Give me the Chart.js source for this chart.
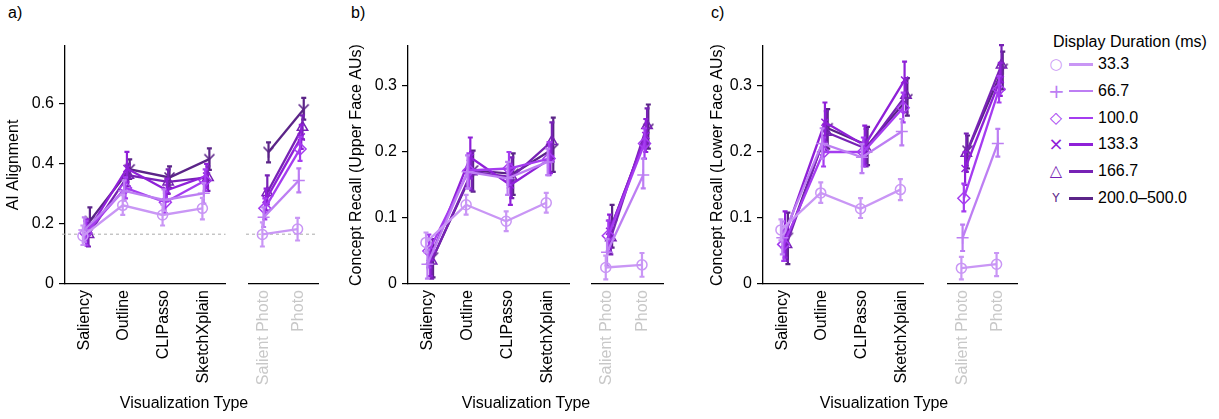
<!DOCTYPE html>
<html>
<head>
<meta charset="utf-8">
<script src="https://cdn.jsdelivr.net/npm/chart.js@4.4.1/dist/chart.umd.min.js"></script>
<style>
  body { margin: 0; width: 1219px; height: 419px; position: relative; background: #fff; overflow: hidden;
         font-family: "Liberation Sans", Arial, sans-serif; color: #000; }
  canvas { position: absolute; top: 0; }
  .texto { position: absolute; font-size: 16px; white-space: nowrap; }
  .tituloX { position: absolute; top: 394px; font-size: 16px; white-space: nowrap; transform: translateX(-50%); }
  .fila { position: absolute; left: 0; height: 20px; font-size: 16px; white-space: nowrap; }
  .fila .marca { position: absolute; width: 16px; text-align: center; line-height: 20px; }
  .fila .linea { position: absolute; left: 16px; top: 9px; width: 24px; height: 2.5px; }
  .fila .etq { position: absolute; left: 45px; line-height: 20px; white-space: nowrap; }
</style>
</head>
<body>
<div class="texto" style="left:8px;top:4px">a)</div>
<div class="texto" style="left:351px;top:4px">b)</div>
<div class="texto" style="left:711px;top:4px">c)</div>

<canvas id="aMain" width="233" height="419" style="left:0px"></canvas>
<canvas id="aFoto" width="89" height="419" style="left:239px"></canvas>
<canvas id="bMain" width="234" height="419" style="left:343px"></canvas>
<canvas id="bFoto" width="91" height="419" style="left:582px"></canvas>
<canvas id="cMain" width="227" height="419" style="left:704px"></canvas>
<canvas id="cFoto" width="89" height="419" style="left:938px"></canvas>

<div class="tituloX" style="left:184px">Visualization Type</div>
<div class="tituloX" style="left:526px">Visualization Type</div>
<div class="tituloX" style="left:884px">Visualization Type</div>

<div id="leyenda" style="position:absolute;left:1040px;top:33px;width:179px;height:190px">
  <div class="texto" style="left:13px;top:0px">Display Duration (ms)</div>
</div>

<script>
// Datos
const duraciones = ['33.3', '66.7', '100.0', '133.3', '166.7', '200.0–500.0'];
const colores = ['#c996f5', '#bd7ef3', '#a53cf0', '#8f20d8', '#7722b5', '#5b2488'];
const categorias = ['Saliency', 'Outline', 'CLIPasso', 'SketchXplain'];
const categoriasFoto = ['Salient Photo', 'Photo'];

// columnas: Saliency, Outline, CLIPasso, SketchXplain, Salient Photo, Photo
const alineacion = [
  [0.160, 0.262, 0.230, 0.252, 0.165, 0.183],
  [0.180, 0.310, 0.280, 0.302, 0.222, 0.345],
  [0.170, 0.320, 0.272, 0.345, 0.252, 0.450],
  [0.172, 0.385, 0.312, 0.360, 0.282, 0.490],
  [0.165, 0.362, 0.340, 0.355, 0.305, 0.522],
  [0.210, 0.382, 0.355, 0.416, 0.440, 0.582]
];
const alineacionBajo = [
  [0.130, 0.230, 0.195, 0.215, 0.125, 0.145],
  [0.140, 0.278, 0.245, 0.268, 0.190, 0.305],
  [0.130, 0.285, 0.236, 0.310, 0.215, 0.410],
  [0.128, 0.340, 0.275, 0.320, 0.245, 0.450],
  [0.125, 0.325, 0.300, 0.310, 0.265, 0.482],
  [0.170, 0.350, 0.320, 0.380, 0.405, 0.548]
];
const alineacionAlto = [
  [0.195, 0.296, 0.265, 0.287, 0.205, 0.220],
  [0.222, 0.345, 0.315, 0.336, 0.255, 0.385],
  [0.210, 0.355, 0.308, 0.382, 0.285, 0.490],
  [0.215, 0.440, 0.350, 0.400, 0.318, 0.530],
  [0.205, 0.400, 0.382, 0.392, 0.362, 0.562],
  [0.255, 0.415, 0.392, 0.452, 0.472, 0.620]
];

const recallSup = [
  [0.063, 0.120, 0.095, 0.123, 0.025, 0.029],
  [0.030, 0.170, 0.160, 0.185, 0.048, 0.165],
  [0.050, 0.172, 0.175, 0.190, 0.073, 0.213],
  [0.040, 0.192, 0.150, 0.190, 0.080, 0.225],
  [0.035, 0.170, 0.162, 0.216, 0.070, 0.240],
  [0.040, 0.172, 0.167, 0.205, 0.090, 0.235]
];
const recallSupBajo = [
  [0.048, 0.105, 0.080, 0.108, 0.007, 0.011],
  [0.008, 0.145, 0.135, 0.165, 0.028, 0.145],
  [0.025, 0.145, 0.150, 0.165, 0.050, 0.190],
  [0.012, 0.160, 0.120, 0.168, 0.055, 0.200],
  [0.008, 0.142, 0.130, 0.185, 0.045, 0.212],
  [0.010, 0.140, 0.135, 0.170, 0.055, 0.205]
];
const recallSupAlto = [
  [0.078, 0.135, 0.110, 0.138, 0.043, 0.047],
  [0.052, 0.195, 0.185, 0.205, 0.068, 0.190],
  [0.075, 0.198, 0.200, 0.215, 0.096, 0.236],
  [0.068, 0.222, 0.182, 0.215, 0.105, 0.250],
  [0.062, 0.200, 0.192, 0.245, 0.095, 0.266],
  [0.068, 0.202, 0.198, 0.252, 0.120, 0.272]
];

const recallInf = [
  [0.082, 0.138, 0.114, 0.143, 0.024, 0.030],
  [0.070, 0.213, 0.192, 0.231, 0.070, 0.213],
  [0.060, 0.200, 0.200, 0.267, 0.130, 0.295],
  [0.075, 0.245, 0.210, 0.309, 0.175, 0.310],
  [0.060, 0.230, 0.205, 0.286, 0.198, 0.332],
  [0.070, 0.236, 0.210, 0.280, 0.202, 0.326]
];
const recallInfBajo = [
  [0.066, 0.123, 0.100, 0.127, 0.007, 0.012],
  [0.045, 0.190, 0.168, 0.210, 0.050, 0.193],
  [0.035, 0.178, 0.178, 0.245, 0.110, 0.275],
  [0.040, 0.215, 0.180, 0.285, 0.150, 0.285],
  [0.035, 0.200, 0.178, 0.260, 0.170, 0.305],
  [0.030, 0.205, 0.180, 0.255, 0.175, 0.295]
];
const recallInfAlto = [
  [0.098, 0.154, 0.130, 0.159, 0.041, 0.047],
  [0.095, 0.236, 0.212, 0.250, 0.090, 0.235],
  [0.085, 0.222, 0.222, 0.290, 0.152, 0.315],
  [0.110, 0.275, 0.240, 0.337, 0.200, 0.335],
  [0.085, 0.262, 0.235, 0.310, 0.228, 0.362],
  [0.108, 0.265, 0.238, 0.312, 0.225, 0.352]
];

const nivelAzar = 0.166;

// Marcadores
function marcaY(color) {
  const c = document.createElement('canvas');
  c.width = 13; c.height = 13;
  const g = c.getContext('2d');
  g.strokeStyle = color; g.lineWidth = 1.6;
  g.beginPath();
  g.moveTo(1.5, 1.5); g.lineTo(6.5, 6.5); g.lineTo(11.5, 1.5);
  g.moveTo(6.5, 6.5); g.lineTo(6.5, 12.5);
  g.stroke();
  return c;
}
const estilos = ['circle', 'cross', 'rectRot', 'crossRot', 'triangle', marcaY(colores[5])];
const radios = [5, 6, 6, 5, 6, 6];
const desplazamiento = [-0.03, 0.005, 0.04, 0.075, 0.11, 0.145];

// Barras de error
const barrasError = {
  id: 'barrasError',
  beforeDatasetDraw(chart, args) {
    const ds = chart.data.datasets[args.index];
    const escalaY = chart.scales.y;
    const ctx = chart.ctx;
    ctx.save();
    ctx.strokeStyle = ds.borderColor;
    ctx.lineWidth = 2.2;
    args.meta.data.forEach((pt, j) => {
      const y0 = escalaY.getPixelForValue(ds.bajo[j]);
      const y1 = escalaY.getPixelForValue(ds.alto[j]);
      ctx.beginPath();
      ctx.moveTo(pt.x, y0); ctx.lineTo(pt.x, y1);
      ctx.moveTo(pt.x - 2.5, y0); ctx.lineTo(pt.x + 2.5, y0);
      ctx.moveTo(pt.x - 2.5, y1); ctx.lineTo(pt.x + 2.5, y1);
      ctx.stroke();
    });
    ctx.restore();
  }
};

// Linea de azar (panel a)
const lineaAzar = {
  id: 'lineaAzar',
  beforeDatasetsDraw(chart, args, opts) {
    if (opts.valor === undefined) return;
    const { ctx, chartArea } = chart;
    const y = chart.scales.y.getPixelForValue(opts.valor);
    ctx.save();
    ctx.strokeStyle = '#aaaaaa';
    ctx.lineWidth = 1;
    ctx.setLineDash([3, 3]);
    ctx.beginPath();
    ctx.moveTo(chartArea.left - 3, y);
    ctx.lineTo(chartArea.right, y);
    ctx.stroke();
    ctx.restore();
  }
};

const fuente = { family: '"Liberation Sans", Arial, sans-serif', size: 16 };

function crearGrafica(id, medias, bajos, altos, opciones) {
  const esFoto = opciones.foto;
  const cats = esFoto ? categoriasFoto : categorias;
  const cols = esFoto ? [4, 5] : [0, 1, 2, 3];
  const datasets = duraciones.map((d, i) => ({
    label: d,
    data: cols.map((c, j) => ({ x: j + desplazamiento[i], y: medias[i][c] })),
    bajo: cols.map(c => bajos[i][c]),
    alto: cols.map(c => altos[i][c]),
    borderColor: colores[i],
    borderWidth: 2.3,
    pointStyle: estilos[i],
    pointRadius: radios[i],
    pointHoverRadius: radios[i],
    pointBorderColor: colores[i],
    pointBackgroundColor: 'rgba(0,0,0,0)',
    pointBorderWidth: 1.5,
    tension: 0,
    clip: false
  }));

  const ticksY = opciones.ticksY;
  return new Chart(document.getElementById(id), {
    type: 'line',
    data: { datasets },
    options: {
      responsive: false,
      animation: false,
      events: [],
      layout: { padding: { top: 46, right: esFoto ? 10 : 2, left: esFoto ? 10 : 0, bottom: 0 } },
      plugins: {
        legend: { display: false },
        tooltip: { enabled: false },
        lineaAzar: { valor: opciones.azar }
      },
      scales: {
        x: {
          type: 'linear',
          min: esFoto ? -0.41 : -0.48,
          max: esFoto ? 1.55 : 3.55,
          afterBuildTicks: s => { s.ticks = cats.map((c, j) => ({ value: j })); },
          afterFit: s => { s.height = 135; },
          grid: { display: false, drawTicks: false },
          border: { display: true, color: '#000', width: 1.3 },
          ticks: {
            autoSkip: false,
            minRotation: 90,
            maxRotation: 90,
            padding: 6,
            color: esFoto ? '#c8c8c8' : '#000',
            font: fuente,
            callback: v => cats[Math.round(v)]
          }
        },
        y: {
          display: !esFoto,
          min: 0,
          max: opciones.maxY,
          afterBuildTicks: s => { s.ticks = ticksY.map(v => ({ value: v })); },
          afterFit: s => { s.width = opciones.anchoY; },
          grid: { drawOnChartArea: false, drawTicks: true, tickLength: 6, color: '#000', lineWidth: 1.2 },
          border: { display: true, color: '#000', width: 1.3 },
          ticks: {
            padding: 5,
            color: '#000',
            font: fuente,
            callback: v => v === 0 ? '0' : v.toFixed(1)
          },
          title: { display: true, text: opciones.tituloY, font: fuente, color: '#000', padding: { top: 4, bottom: 4 } }
        }
      }
    },
    plugins: [barrasError, lineaAzar]
  });
}

const maxA = 0.793, maxBC = 0.3606;
crearGrafica('aMain', alineacion, alineacionBajo, alineacionAlto,
  { foto: false, maxY: maxA, ticksY: [0, 0.2, 0.4, 0.6], anchoY: 65, tituloY: 'AI Alignment', azar: nivelAzar });
crearGrafica('aFoto', alineacion, alineacionBajo, alineacionAlto,
  { foto: true, maxY: maxA, ticksY: [0, 0.2, 0.4, 0.6], anchoY: 0, tituloY: '', azar: nivelAzar });
crearGrafica('bMain', recallSup, recallSupBajo, recallSupAlto,
  { foto: false, maxY: maxBC, ticksY: [0, 0.1, 0.2, 0.3], anchoY: 65, tituloY: 'Concept Recall (Upper Face AUs)' });
crearGrafica('bFoto', recallSup, recallSupBajo, recallSupAlto,
  { foto: true, maxY: maxBC, ticksY: [0, 0.1, 0.2, 0.3], anchoY: 0, tituloY: '' });
crearGrafica('cMain', recallInf, recallInfBajo, recallInfAlto,
  { foto: false, maxY: maxBC, ticksY: [0, 0.1, 0.2, 0.3], anchoY: 59, tituloY: 'Concept Recall (Lower Face AUs)' });
crearGrafica('cFoto', recallInf, recallInfBajo, recallInfAlto,
  { foto: true, maxY: maxBC, ticksY: [0, 0.1, 0.2, 0.3], anchoY: 0, tituloY: '' });

// Leyenda
const glifos = ['○', '+', '◇', '×', '△', 'Y'];
const tamGlifo = [15, 20, 16, 18, 16, 12];
const leyenda = document.getElementById('leyenda');
duraciones.forEach((d, i) => {
  const fila = document.createElement('div');
  fila.className = 'fila';
  fila.style.top = (21 + i * 26.8) + 'px';
  fila.style.left = '8px';
  fila.innerHTML = '<span class="marca" style="color:' + colores[i] + ';font-size:' + tamGlifo[i] + 'px;font-family:DejaVu Sans,sans-serif">' + glifos[i] + '</span>' +
    '<span class="linea" style="left:21px;background:' + colores[i] + '"></span>' +
    '<span class="etq" style="left:50px">' + d + '</span>';
  leyenda.appendChild(fila);
});
</script>
</body>
</html>
